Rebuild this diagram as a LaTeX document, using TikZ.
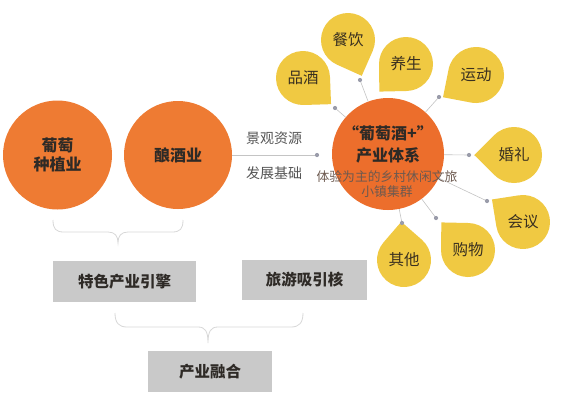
\documentclass[tikz,border=0pt]{standalone}
\usepackage{fontspec}
\setmainfont{Noto Sans CJK SC}
\usetikzlibrary{calc}
\definecolor{orangeA}{HTML}{EE7B33}
\definecolor{orangeB}{HTML}{EC6E2C}
\definecolor{yel}{HTML}{F0C942}
\definecolor{boxgray}{HTML}{C9C9C9}
\definecolor{linegray}{HTML}{C4C4C4}
\definecolor{bracegray}{HTML}{D8D8D8}
\definecolor{dotgray}{HTML}{9A9CAA}
\definecolor{txtdark}{HTML}{2E2A26}
\definecolor{txtgray}{HTML}{555555}
\definecolor{droptxt}{HTML}{3A3020}
\newcommand{\tdrop}[6]{%
  \fill[yel] ($(#2,#3)+(#5:{1.42*#4})$) -- ($(#2,#3)+(#5+45:#4)$)
     arc[start angle=#5+45, end angle=#5+315, radius=#4] -- cycle;
  \node[droptext] (#1) at (#2,#3) {#6};
}
\tikzset{
  orangecirc/.style={circle, fill=orangeA, inner sep=0pt, align=center,
    text=txtdark, font=\fontsize{16}{19}\selectfont\bfseries},
  droptext/.style={text=droptxt, font=\fontsize{15.5}{16}\selectfont},
  sidetext/.style={text=txtgray, font=\fontsize{14}{15}\selectfont},
  bigtext/.style={text=txtdark, font=\fontsize{16}{17}\selectfont\bfseries},
  smalltext/.style={text=txtgray!85!orangeB, font=\fontsize{12.8}{13}\selectfont},
  graybox/.style={fill=boxgray, text=txtdark, font=\fontsize{15.5}{16}\selectfont\bfseries},
  conn/.style={draw=linegray, line width=0.6pt},
  dotmark/.style={fill=dotgray},
  bracestyle/.style={draw=bracegray, line width=0.8pt}
}
\begin{document}
\begin{tikzpicture}[x=1pt, y=-1pt]
\useasboundingbox (0,0) rectangle (564,400);
\fill[white] (0,0) rectangle (564,400);

% left circles
\node[orangecirc, minimum size=109] (c1) at (57.5,155) {葡萄\\种植业};
\node[orangecirc, minimum size=108] (c2) at (178,155) {酿酒业};

% center circle
\node[circle, fill=orangeB, minimum size=112, inner sep=0pt] (cc) at (388,154) {};

% left connector
\coordinate (dl) at (317,155);
\draw[conn] (c2) -- (dl);
\node[sidetext] (s1) at (274,138) {景观资源};
\node[sidetext] (s2) at (274,173) {发展基础};

% dots
\coordinate (d1) at (335,108);
\coordinate (d2) at (360,80);
\coordinate (d3) at (439,97);
\coordinate (d4) at (469,155);
\coordinate (d5) at (487,201);
\coordinate (d6) at (436,218);
\coordinate (d7) at (402,223);

\foreach \d in {d1,d2,d3,d4,d5,d6,d7} \draw[conn] (cc) -- (\d);

% drops
\tdrop{pj}{303}{78}{27}{43}{品酒}
\tdrop{cy}{348}{40}{27}{69}{餐饮}
\tdrop{ys}{406}{64}{27}{134}{养生}
\tdrop{yd}{476}{75}{28}{146}{运动}
\tdrop{hl}{514}{155}{28}{180}{婚礼}
\tdrop{hy}{523}{222}{27}{216}{会议}
\tdrop{gw}{468}{250}{27}{226}{购物}
\tdrop{qt}{404}{260}{27}{266}{其他}

\foreach \d in {dl,d1,d2,d3,d4,d5,d6,d7} \fill[dotmark] (\d) circle[radius=2.1];

% center texts
\node[bigtext] (t1) at (388,133) {“葡萄酒+”};
\node[bigtext] (t2) at (388,155) {产业体系};
\node[smalltext] (t3) at (387,177) {体验为主的乡村休闲文旅};
\node[smalltext] (t4) at (387,192) {小镇集群};

% braces
\draw[bracestyle] (53,220) .. controls (53,229) and (56,232) .. (64,232) -- (108,232)
  .. controls (115,232) and (118,236) .. (118,243)
  .. controls (118,236) and (121,232) .. (128,232) -- (172,232)
  .. controls (180,232) and (183,229) .. (183,220);
\draw[bracestyle] (115,313) .. controls (115,323) and (119,327) .. (127,327) -- (198,327)
  .. controls (205,327) and (208,331) .. (208,343)
  .. controls (208,331) and (211,327) .. (218,327) -- (291,327)
  .. controls (299,327) and (303,323) .. (303,313);

% boxes
\node[graybox, minimum width=143, minimum height=41] (b1) at (124.5,281.5) {特色产业引擎};
\node[graybox, minimum width=125, minimum height=40] (b2) at (304.5,280) {旅游吸引核};
\node[graybox, minimum width=124, minimum height=41] (b3) at (210,371.5) {产业融合};
\end{tikzpicture}
\end{document}
